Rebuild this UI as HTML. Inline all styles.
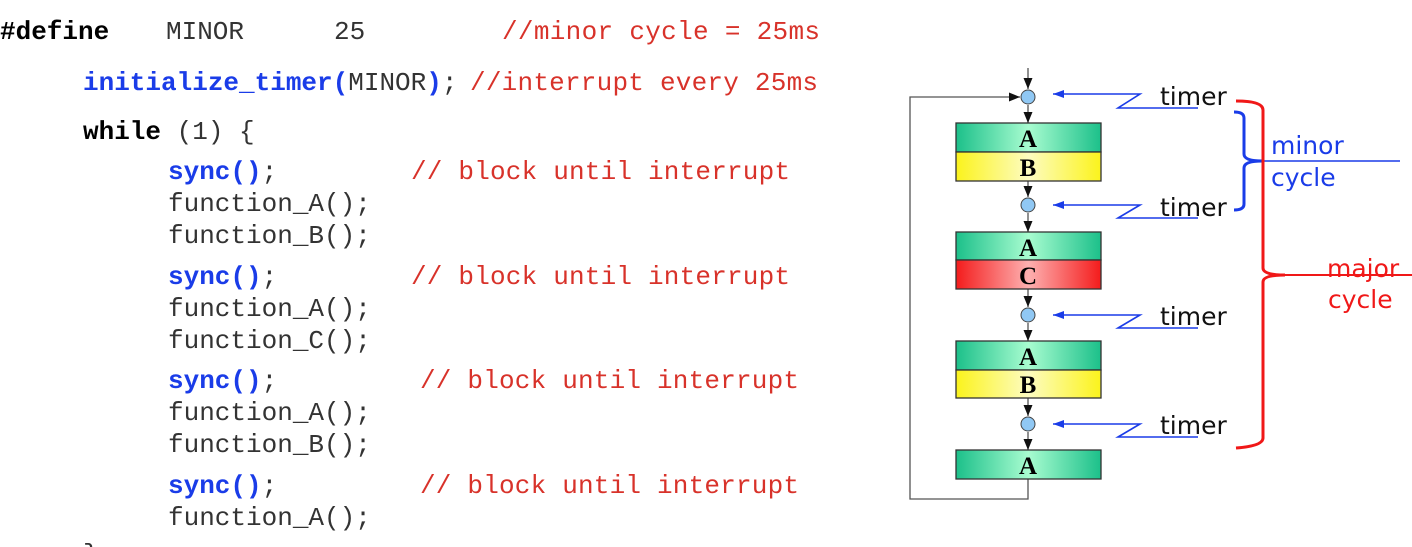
<!DOCTYPE html>
<html><head><meta charset="utf-8"><style>
html,body{margin:0;padding:0;background:#fff;width:1412px;height:547px;overflow:hidden}
svg{display:block}
.m{font-family:"Liberation Mono",monospace;font-size:26px}
.k{fill:#000;font-weight:bold}
.b{fill:#1a3ce8;font-weight:bold}
.n{fill:#333}
.c{fill:#d8322a}
.s{font-family:"DejaVu Sans","Liberation Sans",sans-serif;font-size:25px}
.bx{font-family:"Liberation Serif",serif;font-size:25px;font-weight:bold}
</style></head><body>
<svg width="1412" height="547" viewBox="0 0 1412 547" xmlns="http://www.w3.org/2000/svg">
<defs>
<linearGradient id="g" x1="0" x2="1"><stop offset="0" stop-color="#1cc08a"/><stop offset="0.5" stop-color="#a8fcd0"/><stop offset="1" stop-color="#1cc08a"/></linearGradient>
<linearGradient id="y" x1="0" x2="1"><stop offset="0" stop-color="#fbf31c"/><stop offset="0.5" stop-color="#fdfcc0"/><stop offset="1" stop-color="#fbf31c"/></linearGradient>
<linearGradient id="r" x1="0" x2="1"><stop offset="0" stop-color="#f41c1c"/><stop offset="0.5" stop-color="#fdb0b0"/><stop offset="1" stop-color="#f41c1c"/></linearGradient>
<marker id="ak" markerWidth="11" markerHeight="9" refX="11" refY="4.5" orient="auto" markerUnits="userSpaceOnUse"><path d="M0,0 L11,4.5 L0,9z" fill="#111"/></marker>
<marker id="ab" markerWidth="11" markerHeight="8" refX="11" refY="4" orient="auto" markerUnits="userSpaceOnUse"><path d="M0,0 L11,4 L0,8z" fill="#1a3ce8"/></marker>
</defs>
<g class="m">
<text x="0" y="39" class="k">#define</text>
<text x="166" y="39" class="n">MINOR</text>
<text x="334" y="39" class="n">25</text>
<text x="502" y="39" class="c" textLength="318">//minor cycle = 25ms</text>
<text x="83" y="90"><tspan class="b">initialize_timer(</tspan><tspan class="n">MINOR</tspan><tspan class="b">)</tspan><tspan class="n">;</tspan></text>
<text x="470" y="90" class="c" textLength="348">//interrupt every 25ms</text>
<text x="83" y="139"><tspan class="k">while</tspan><tspan class="n"> (1) {</tspan></text>
<text x="168" y="179"><tspan class="b">sync()</tspan><tspan class="n">;</tspan></text>
<text x="411" y="179" class="c" textLength="379">// block until interrupt</text>
<text x="168" y="211" class="n">function_A();</text>
<text x="168" y="243" class="n">function_B();</text>
<text x="168" y="284"><tspan class="b">sync()</tspan><tspan class="n">;</tspan></text>
<text x="411" y="284" class="c" textLength="379">// block until interrupt</text>
<text x="168" y="316" class="n">function_A();</text>
<text x="168" y="348" class="n">function_C();</text>
<text x="168" y="388"><tspan class="b">sync()</tspan><tspan class="n">;</tspan></text>
<text x="420" y="388" class="c" textLength="379">// block until interrupt</text>
<text x="168" y="420" class="n">function_A();</text>
<text x="168" y="452" class="n">function_B();</text>
<text x="168" y="493"><tspan class="b">sync()</tspan><tspan class="n">;</tspan></text>
<text x="420" y="493" class="c" textLength="379">// block until interrupt</text>
<text x="168" y="525" class="n">function_A();</text>
<text x="83" y="562" class="n">}</text>
</g>
<g stroke="#555" stroke-width="1.3" fill="none">
<path d="M1028,479 V499 H910 V97 H1020" marker-end="url(#ak)"/>
<line x1="1028" y1="68" x2="1028" y2="89" marker-end="url(#ak)"/>
<line x1="1028" y1="105" x2="1028" y2="123" marker-end="url(#ak)"/>
<line x1="1028" y1="181" x2="1028" y2="197" marker-end="url(#ak)"/>
<line x1="1028" y1="213" x2="1028" y2="232" marker-end="url(#ak)"/>
<line x1="1028" y1="289" x2="1028" y2="307" marker-end="url(#ak)"/>
<line x1="1028" y1="323" x2="1028" y2="341" marker-end="url(#ak)"/>
<line x1="1028" y1="398" x2="1028" y2="416" marker-end="url(#ak)"/>
<line x1="1028" y1="432" x2="1028" y2="450" marker-end="url(#ak)"/>
</g>
<g fill="#90c8f4" stroke="#444" stroke-width="1">
<circle cx="1028" cy="97" r="7"/><circle cx="1028" cy="205" r="7"/><circle cx="1028" cy="315" r="7"/><circle cx="1028" cy="424" r="7"/>
</g>
<g stroke="#333" stroke-width="1.3">
<rect x="956" y="123" width="145" height="29" fill="url(#g)"/>
<rect x="956" y="152" width="145" height="29" fill="url(#y)"/>
<rect x="956" y="232" width="145" height="28" fill="url(#g)"/>
<rect x="956" y="260" width="145" height="29" fill="url(#r)"/>
<rect x="956" y="341" width="145" height="29" fill="url(#g)"/>
<rect x="956" y="370" width="145" height="28" fill="url(#y)"/>
<rect x="956" y="450" width="145" height="29" fill="url(#g)"/>
</g>
<g class="bx" text-anchor="middle" fill="#000">
<text x="1028" y="147">A</text><text x="1028" y="176">B</text>
<text x="1028" y="256">A</text><text x="1028" y="284">C</text>
<text x="1028" y="365">A</text><text x="1028" y="393">B</text>
<text x="1028" y="474">A</text>
</g>
<g stroke="#1a3ce8" stroke-width="1.6" fill="none">
<path d="M1198,108 H1118 L1140,94 H1053" marker-end="url(#ab)"/>
<path d="M1198,218 H1118 L1140,205 H1053" marker-end="url(#ab)"/>
<path d="M1198,328 H1118 L1140,315 H1053" marker-end="url(#ab)"/>
<path d="M1198,437 H1118 L1140,424 H1053" marker-end="url(#ab)"/>
</g>
<g class="s" fill="#111">
<text x="1160" y="105">timer</text><text x="1160" y="216">timer</text>
<text x="1160" y="325">timer</text><text x="1160" y="434">timer</text>
</g>
<path d="M1234,112 Q1244,112 1244,118 V154 Q1244,161 1262,161 Q1244,161 1244,168 V204 Q1244,210 1234,210" stroke="#1a3ce8" stroke-width="3" fill="none"/>
<line x1="1262" y1="161" x2="1400" y2="161" stroke="#1a3ce8" stroke-width="1.5"/>
<path d="M1236,101 Q1263,101 1263,110 V268 Q1263,275 1285,275 Q1263,275 1263,282 V438 Q1263,446 1236,448" stroke="#f01818" stroke-width="3" fill="none"/>
<line x1="1285" y1="275" x2="1412" y2="275" stroke="#f01818" stroke-width="2"/>
<g class="s">
<text x="1271" y="154" fill="#1a3ce8">minor</text>
<text x="1271" y="186" fill="#1a3ce8">cycle</text>
<text x="1327" y="277" fill="#f01818">major</text>
<text x="1328" y="308" fill="#f01818">cycle</text>
</g>
</svg>
</body></html>
